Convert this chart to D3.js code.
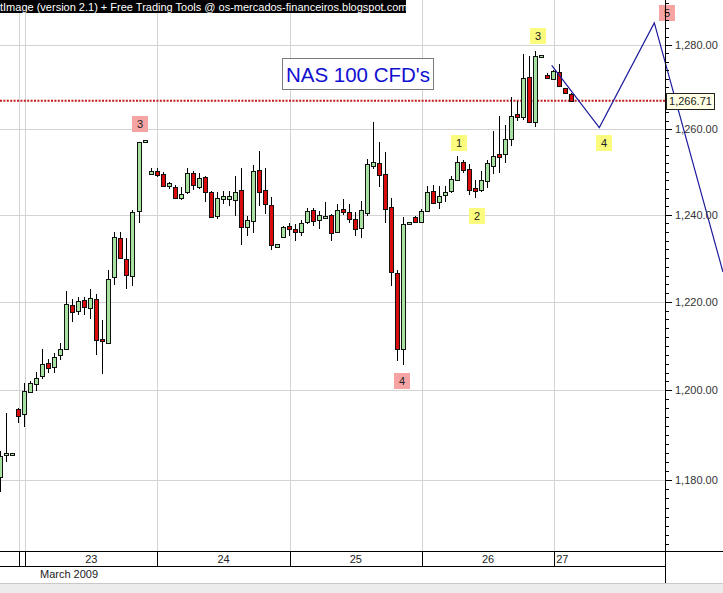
<!DOCTYPE html>
<html><head><meta charset="utf-8">
<script src="https://cdn.jsdelivr.net/npm/d3@7"></script>
<style>
html,body{margin:0;padding:0;background:#fff;overflow:hidden;}
svg{display:block;font-family:"Liberation Sans",Arial,sans-serif;}
</style></head><body>
<svg id="c" width="723" height="593"></svg>
<script>
// ---- data (hourly candles, index 0..95) ----
const opens=[1180.8,1185.6,1185.5,1195.8,1194.7,1199.6,1201.4,1203.1,1206.2,1205.2,1208.0,1209.2,1219.3,1218.0,1220.5,1218.6,1220.7,1211.6,1210.7,1225.7,1234.6,1229.8,1225.9,1240.8,1257.0,1249.7,1250.2,1249.6,1246.7,1246.5,1244.0,1245.3,1249.7,1246.6,1248.8,1245.4,1239.8,1243.8,1243.8,1243.6,1245.7,1237.2,1238.7,1250.5,1245.7,1242.2,1232.7,1234.9,1237.5,1236.8,1236.0,1238.3,1241.1,1238.7,1239.2,1239.9,1236.0,1241.3,1240.6,1239.1,1236.9,1240.4,1251.4,1252.1,1249.6,1241.8,1226.5,1209.2,1237.8,1239.5,1238.4,1241.0,1245.6,1243.1,1244.5,1245.4,1248.1,1252.2,1250.7,1246.2,1245.8,1247.8,1251.5,1254.2,1254.2,1257.7,1263.6,1262.9,1272.3,1261.7,1277.1,1272.9,1271.9,1273.5,1269.7,1268.4];
const highs=[1186.4,1194.9,1186.1,1196.0,1201.6,1202.0,1204.2,1209.3,1207.1,1208.3,1210.7,1222.4,1220.7,1221.1,1221.1,1223.0,1221.8,1215.8,1227.2,1236.0,1236.0,1234.6,1241.1,1257.0,1257.5,1250.9,1250.9,1249.9,1247.6,1247.0,1246.5,1250.9,1250.1,1249.7,1249.0,1245.6,1245.4,1245.6,1245.6,1249.1,1250.9,1239.7,1251.5,1254.9,1250.9,1244.1,1233.3,1237.4,1238.2,1237.8,1238.8,1241.5,1241.7,1240.9,1242.9,1240.1,1242.5,1243.7,1242.5,1240.6,1243.2,1253.0,1261.7,1256.9,1254.6,1243.9,1227.4,1239.5,1238.3,1239.8,1241.3,1246.8,1247.0,1246.8,1246.8,1249.1,1253.8,1252.8,1251.9,1248.2,1250.1,1252.8,1259.6,1263.2,1261.0,1267.6,1266.6,1277.9,1277.4,1278.6,1277.6,1273.4,1274.1,1275.5,1269.8,1268.6];
const lows=[1177.5,1184.1,1185.5,1192.8,1191.9,1199.4,1199.9,1202.5,1203.9,1204.0,1206.9,1209.0,1215.4,1217.0,1217.0,1216.1,1207.9,1203.7,1210.5,1223.8,1229.9,1223.0,1223.6,1238.1,1257.0,1249.5,1248.9,1246.9,1246.0,1244.0,1243.5,1244.9,1245.7,1246.0,1242.9,1239.5,1239.0,1242.6,1242.1,1239.7,1233.0,1235.2,1235.9,1242.1,1240.2,1231.8,1232.7,1234.7,1235.0,1233.9,1235.2,1237.8,1237.5,1236.7,1239.2,1233.9,1235.8,1240.0,1238.1,1235.2,1234.6,1239.8,1250.7,1246.4,1238.1,1223.6,1206.7,1205.8,1237.8,1238.3,1238.2,1240.8,1242.8,1241.3,1242.9,1245.0,1247.9,1249.7,1244.7,1243.9,1245.2,1246.2,1249.5,1249.7,1252.1,1256.1,1262.0,1262.2,1261.7,1260.6,1277.1,1271.9,1271.7,1270.0,1268.3,1266.6];
const closes=[1185.4,1186.1,1186.0,1194.3,1199.9,1201.6,1202.7,1205.9,1205.0,1207.5,1209.3,1219.5,1217.7,1220.2,1218.9,1220.8,1211.4,1211.1,1225.3,1234.9,1230.1,1226.1,1240.6,1257.0,1257.4,1250.3,1249.3,1246.9,1247.3,1244.0,1244.9,1249.7,1246.9,1248.6,1245.4,1239.7,1243.9,1244.4,1244.4,1245.4,1237.2,1238.8,1250.3,1245.3,1242.5,1233.0,1233.3,1237.2,1236.9,1236.0,1238.1,1240.9,1238.6,1239.9,1239.7,1235.8,1241.1,1240.7,1239.0,1236.7,1241.1,1251.9,1252.4,1249.2,1241.5,1226.9,1209.2,1237.8,1238.3,1238.3,1240.9,1245.3,1242.9,1244.4,1245.3,1248.3,1252.4,1250.4,1245.8,1245.6,1248.2,1252.1,1253.8,1253.6,1257.7,1263.2,1263.0,1272.1,1261.7,1277.4,1277.6,1272.1,1273.7,1270.1,1268.4,1266.71];
const lastPrice=1266.71;
const dayBreaks=[3.17,4.16,26.16,48.16,70.16,92.16];
const dayLabels=["23","24","25","26","27"];
const monthLabel="March 2009";
const yTicks=[1180,1200,1220,1240,1260,1280];
const waveText=["3","4","1","2","3","4","5"];
const waveIdx=[23.25,66.8,76.33,79.33,89.44,100.42,110.98];
const waveVal=[1261.25,1202.2,1256.8,1239.8,1282.1,1256.8,1287.7];
const waveKind=["pink","pink","yellow","yellow","yellow","yellow","pink"];
const projIdx=[91.75,99.67,108.82,120.25];
const projVal=[1275.1,1260.4,1285.3,1226.8];
const chartTitle="NAS 100 CFD's";
const headerText="tImage (version 2.1) + Free Trading Tools @ os-mercados-financeiros.blogspot.com";

// ---- layout ----
const W=723,H=593,plotR=665,plotB=551;
const svg=d3.select("#c");
const x=d3.scaleLinear().domain([-0.045,110.6]).range([0,plotR]);
const y=d3.scaleLog().domain([1164.5,1290.8]).range([plotB,0]);
const candles=opens.map((o,i)=>({i,o,h:highs[i],l:lows[i],c:closes[i]}));

svg.append("rect").attr("width",W).attr("height",H).attr("fill","#fff");
svg.append("defs").append("clipPath").attr("id","pc").append("rect").attr("x",0).attr("y",0).attr("width",plotR).attr("height",plotB);

const grid=svg.append("g").attr("shape-rendering","crispEdges");
grid.selectAll("line.h").data(yTicks).join("line").attr("class","h")
  .attr("x1",0).attr("x2",plotR).attr("y1",d=>Math.round(y(d))+0.5).attr("y2",d=>Math.round(y(d))+0.5)
  .attr("stroke","#d3d3d3");
grid.selectAll("line.v").data(dayBreaks).join("line").attr("class","v")
  .attr("x1",d=>Math.round(x(d))+0.5).attr("x2",d=>Math.round(x(d))+0.5).attr("y1",0).attr("y2",plotB)
  .attr("stroke","#d3d3d3");

// current price dotted line
svg.append("line").attr("x1",0).attr("x2",plotR).attr("y1",y(lastPrice)).attr("y2",y(lastPrice))
  .attr("stroke","#c41a1a").attr("stroke-width",2).attr("stroke-dasharray","2,1.4");

// candles
const cg=svg.append("g").attr("clip-path","url(#pc)").attr("shape-rendering","crispEdges");
const cx=d=>Math.round(x(d.i));
cg.selectAll("line.w").data(candles).join("line").attr("class","w")
  .attr("x1",d=>cx(d)+0.5).attr("x2",d=>cx(d)+0.5)
  .attr("y1",d=>y(d.h)).attr("y2",d=>y(d.l)).attr("stroke","#000");
cg.selectAll("rect.b").data(candles).join("rect").attr("class","b")
  .attr("x",d=>cx(d)-1.5).attr("width",4)
  .attr("y",d=>Math.round(y(Math.max(d.o,d.c)))+0.5)
  .attr("height",d=>Math.max(2,Math.round(y(Math.min(d.o,d.c))-y(Math.max(d.o,d.c)))))
  .attr("fill",d=>d.c>=d.o?"#a6e3a1":"#d80c0c").attr("stroke","#111");

// title box
const tg=svg.append("g");
tg.append("rect").attr("x",282.5).attr("y",58.5).attr("width",151).attr("height",31).attr("fill","#fff").attr("stroke","#7a7a7a");
tg.append("text").attr("x",358).attr("y",82).attr("text-anchor","middle").attr("font-size",20.5)
  .attr("fill","#1010d0").text(chartTitle);

// projection line
svg.append("path").datum(projIdx.map((d,k)=>[d,projVal[k]]))
  .attr("d",d3.line().x(d=>x(d[0])).y(d=>y(d[1])))
  .attr("fill","none").attr("stroke","#1c1c9c").attr("stroke-width",1.2);

// wave labels
const wl=svg.append("g").selectAll("g").data(waveText.map((t,k)=>({t,i:waveIdx[k],v:waveVal[k],k:waveKind[k]}))).join("g")
  .attr("transform",d=>`translate(${Math.round(x(d.i))},${Math.round(y(d.v))})`);
wl.append("rect").attr("x",-8).attr("y",-8).attr("width",16).attr("height",16)
  .attr("fill",d=>d.k==="pink"?"#f5a3a3":"#fbfb7e");
wl.append("text").attr("text-anchor","middle").attr("y",4).attr("font-size",11).attr("fill","#222").text(d=>d.t);

// y axis
const ag=svg.append("g").attr("shape-rendering","crispEdges");
const minor=d3.range(1166,1291,2);
ag.selectAll("line.mt").data(minor).join("line").attr("class","mt")
  .attr("x1",plotR+1).attr("x2",plotR+4).attr("y1",d=>Math.round(y(d))+0.5).attr("y2",d=>Math.round(y(d))+0.5).attr("stroke","#000");
ag.selectAll("line.Mt").data(yTicks).join("line").attr("class","Mt")
  .attr("x1",plotR+1).attr("x2",plotR+7).attr("y1",d=>Math.round(y(d))+0.5).attr("y2",d=>Math.round(y(d))+0.5).attr("stroke","#000");
const fmt=d3.format(",.2f");
svg.append("g").selectAll("text").data(yTicks).join("text")
  .attr("x",675).attr("y",d=>y(d)+4).attr("font-size",11).attr("fill","#333").text(d=>fmt(d));

// price tag
const py=Math.round(y(lastPrice));
svg.append("rect").attr("x",666.5).attr("y",py-7.5).attr("width",48).attr("height",16)
  .attr("fill","#ffffe6").attr("stroke","#222");
svg.append("text").attr("x",690.5).attr("y",py+4).attr("text-anchor","middle").attr("font-size",11).attr("fill","#222").text(fmt(lastPrice));

// date axis
const dg=svg.append("g").attr("shape-rendering","crispEdges");
dg.append("line").attr("x1",0).attr("x2",W).attr("y1",plotB+0.5).attr("y2",plotB+0.5).attr("stroke","#000");
dg.append("line").attr("x1",0).attr("x2",plotR).attr("y1",566.5).attr("y2",566.5).attr("stroke","#000");
dg.selectAll("line.d").data(dayBreaks).join("line").attr("class","d")
  .attr("x1",d=>Math.round(x(d))+0.5).attr("x2",d=>Math.round(x(d))+0.5).attr("y1",plotB).attr("y2",566).attr("stroke","#000");
svg.append("g").selectAll("text").data(dayLabels).join("text")
  .attr("x",(d,k)=>k<dayLabels.length-1?x((dayBreaks[k+1]+dayBreaks[k+2])/2):x(dayBreaks[k+1])+2)
  .attr("text-anchor",(d,k)=>k<dayLabels.length-1?"middle":"start")
  .attr("y",563).attr("font-size",11).attr("fill","#222").text(d=>d);
svg.append("text").attr("x",40).attr("y",578).attr("font-size",11).attr("fill","#222").text(monthLabel);

// bottom status band
svg.append("rect").attr("x",0).attr("y",583).attr("width",W).attr("height",10).attr("fill","#ececec");
svg.append("line").attr("x1",0).attr("x2",W).attr("y1",583.5).attr("y2",583.5).attr("stroke","#c8c8c8");
svg.append("line").attr("x1",plotR+0.5).attr("x2",plotR+0.5).attr("y1",0).attr("y2",583).attr("stroke","#000").attr("shape-rendering","crispEdges");

// header bar
svg.append("rect").attr("x",0).attr("y",0).attr("width",406).attr("height",13).attr("fill","#000");
svg.append("text").attr("x",0).attr("y",10.5).attr("font-size",11).attr("fill","#fff").text(headerText);
</script></body></html>
